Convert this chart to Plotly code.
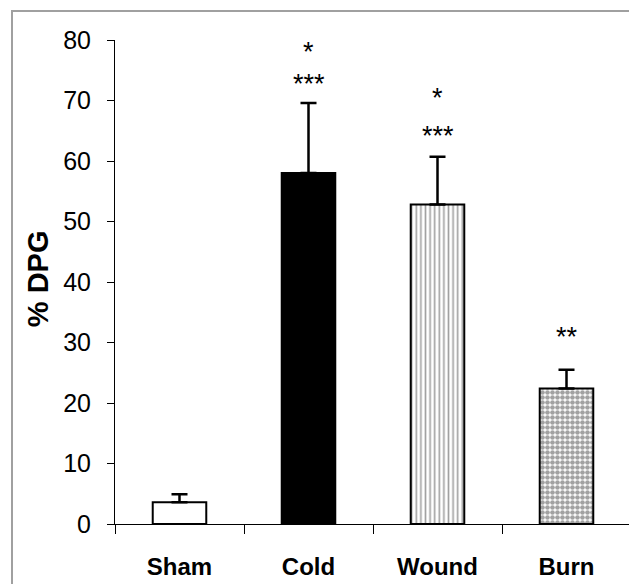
import plotly.graph_objects as go

# ---- data ----
groups = ["Sham", "Cold", "Wound", "Burn"]
dpg_mean = [3.6, 58.0, 52.8, 22.4]
dpg_sem = [1.3, 11.6, 7.9, 3.1]
sig_text = ["", "***", "***", "**"]
sig_y = [None, 72.7, 64.2, 30.9]
sig2_text = ["", "*", "*", ""]
sig2_y = [None, 78.0, 70.4, None]
y_ticks = [0, 10, 20, 30, 40, 50, 60, 70, 80]

FONT = "Liberation Sans, Arial, sans-serif"

fill_colors = ["white", "black", "white", "white"]
pattern_shapes = ["", "", "|", "."]
pattern_sizes = [6, 6, 4.6, 5]
pattern_solid = [0.3, 0.3, 0.36, 0.68]

# page body has an 8px default margin; figure is sized so the plot area
# lands where the reference draws it (x 115..631, y 40..524 in the window)
PAGE_OFF = 8

fig = go.Figure()
fig.add_trace(go.Bar(
    x=groups,
    y=dpg_mean,
    marker=dict(
        color=fill_colors,
        line=dict(color="black", width=2),
        pattern=dict(shape=pattern_shapes, fgcolor="black", bgcolor="white",
                     size=pattern_sizes, solidity=pattern_solid, fillmode="overlay"),
    ),
    error_y=dict(type="data", symmetric=False, array=dpg_sem,
                 arrayminus=[0] * len(dpg_sem), color="black",
                 thickness=2.5, width=8),
    width=0.415,
    showlegend=False,
))

annotations = []
for g, t, yv in list(zip(groups, sig_text, sig_y)) + list(zip(groups, sig2_text, sig2_y)):
    if t:
        annotations.append(dict(x=g, y=yv, xref="x", yref="y", text=t, showarrow=False,
                                font=dict(family=FONT, size=27, color="black"),
                                xanchor="center", yanchor="middle"))
annotations.append(dict(x=-0.150, y=0.507, xref="paper", yref="paper", text="<b>% DPG</b>",
                        textangle=-90, showarrow=False,
                        font=dict(family=FONT, size=29, color="black"),
                        xanchor="center", yanchor="middle"))

fig.update_layout(
    template="none",
    width=637 - PAGE_OFF, height=584 - PAGE_OFF,
    margin=dict(l=115 - PAGE_OFF, r=6, t=40 - PAGE_OFF, b=60, pad=0),
    paper_bgcolor="white", plot_bgcolor="white",
    font=dict(family=FONT, color="black"),
    annotations=annotations,
    bargap=0.585,
    shapes=[dict(type="rect", xref="paper", yref="paper",
                 x0=(12 - 115) / 516, x1=(660 - 115) / 516,
                 y0=(524 - 620) / 484, y1=(524 - 11) / 484,
                 line=dict(color="#a0a0a0", width=2), layer="below")],
    xaxis=dict(type="category", tickson="boundaries", ticks="outside", ticklen=9,
               tickwidth=1, tickcolor="black", showline=True, linecolor="black",
               linewidth=1, showgrid=False, automargin=False, zeroline=False,
               tickfont=dict(family=FONT, size=24, color="black", weight="bold"),
               ticklabelstandoff=21),
    yaxis=dict(range=[0, 80], tickvals=y_ticks, ticks="outside", ticklen=7,
               tickwidth=1, tickcolor="black", showline=True, linecolor="black",
               linewidth=1, showgrid=False, zeroline=False, automargin=False,
               tickfont=dict(family=FONT, size=25, color="black"),
               ticklabelstandoff=11),
)

fig.write_html("out.html")
